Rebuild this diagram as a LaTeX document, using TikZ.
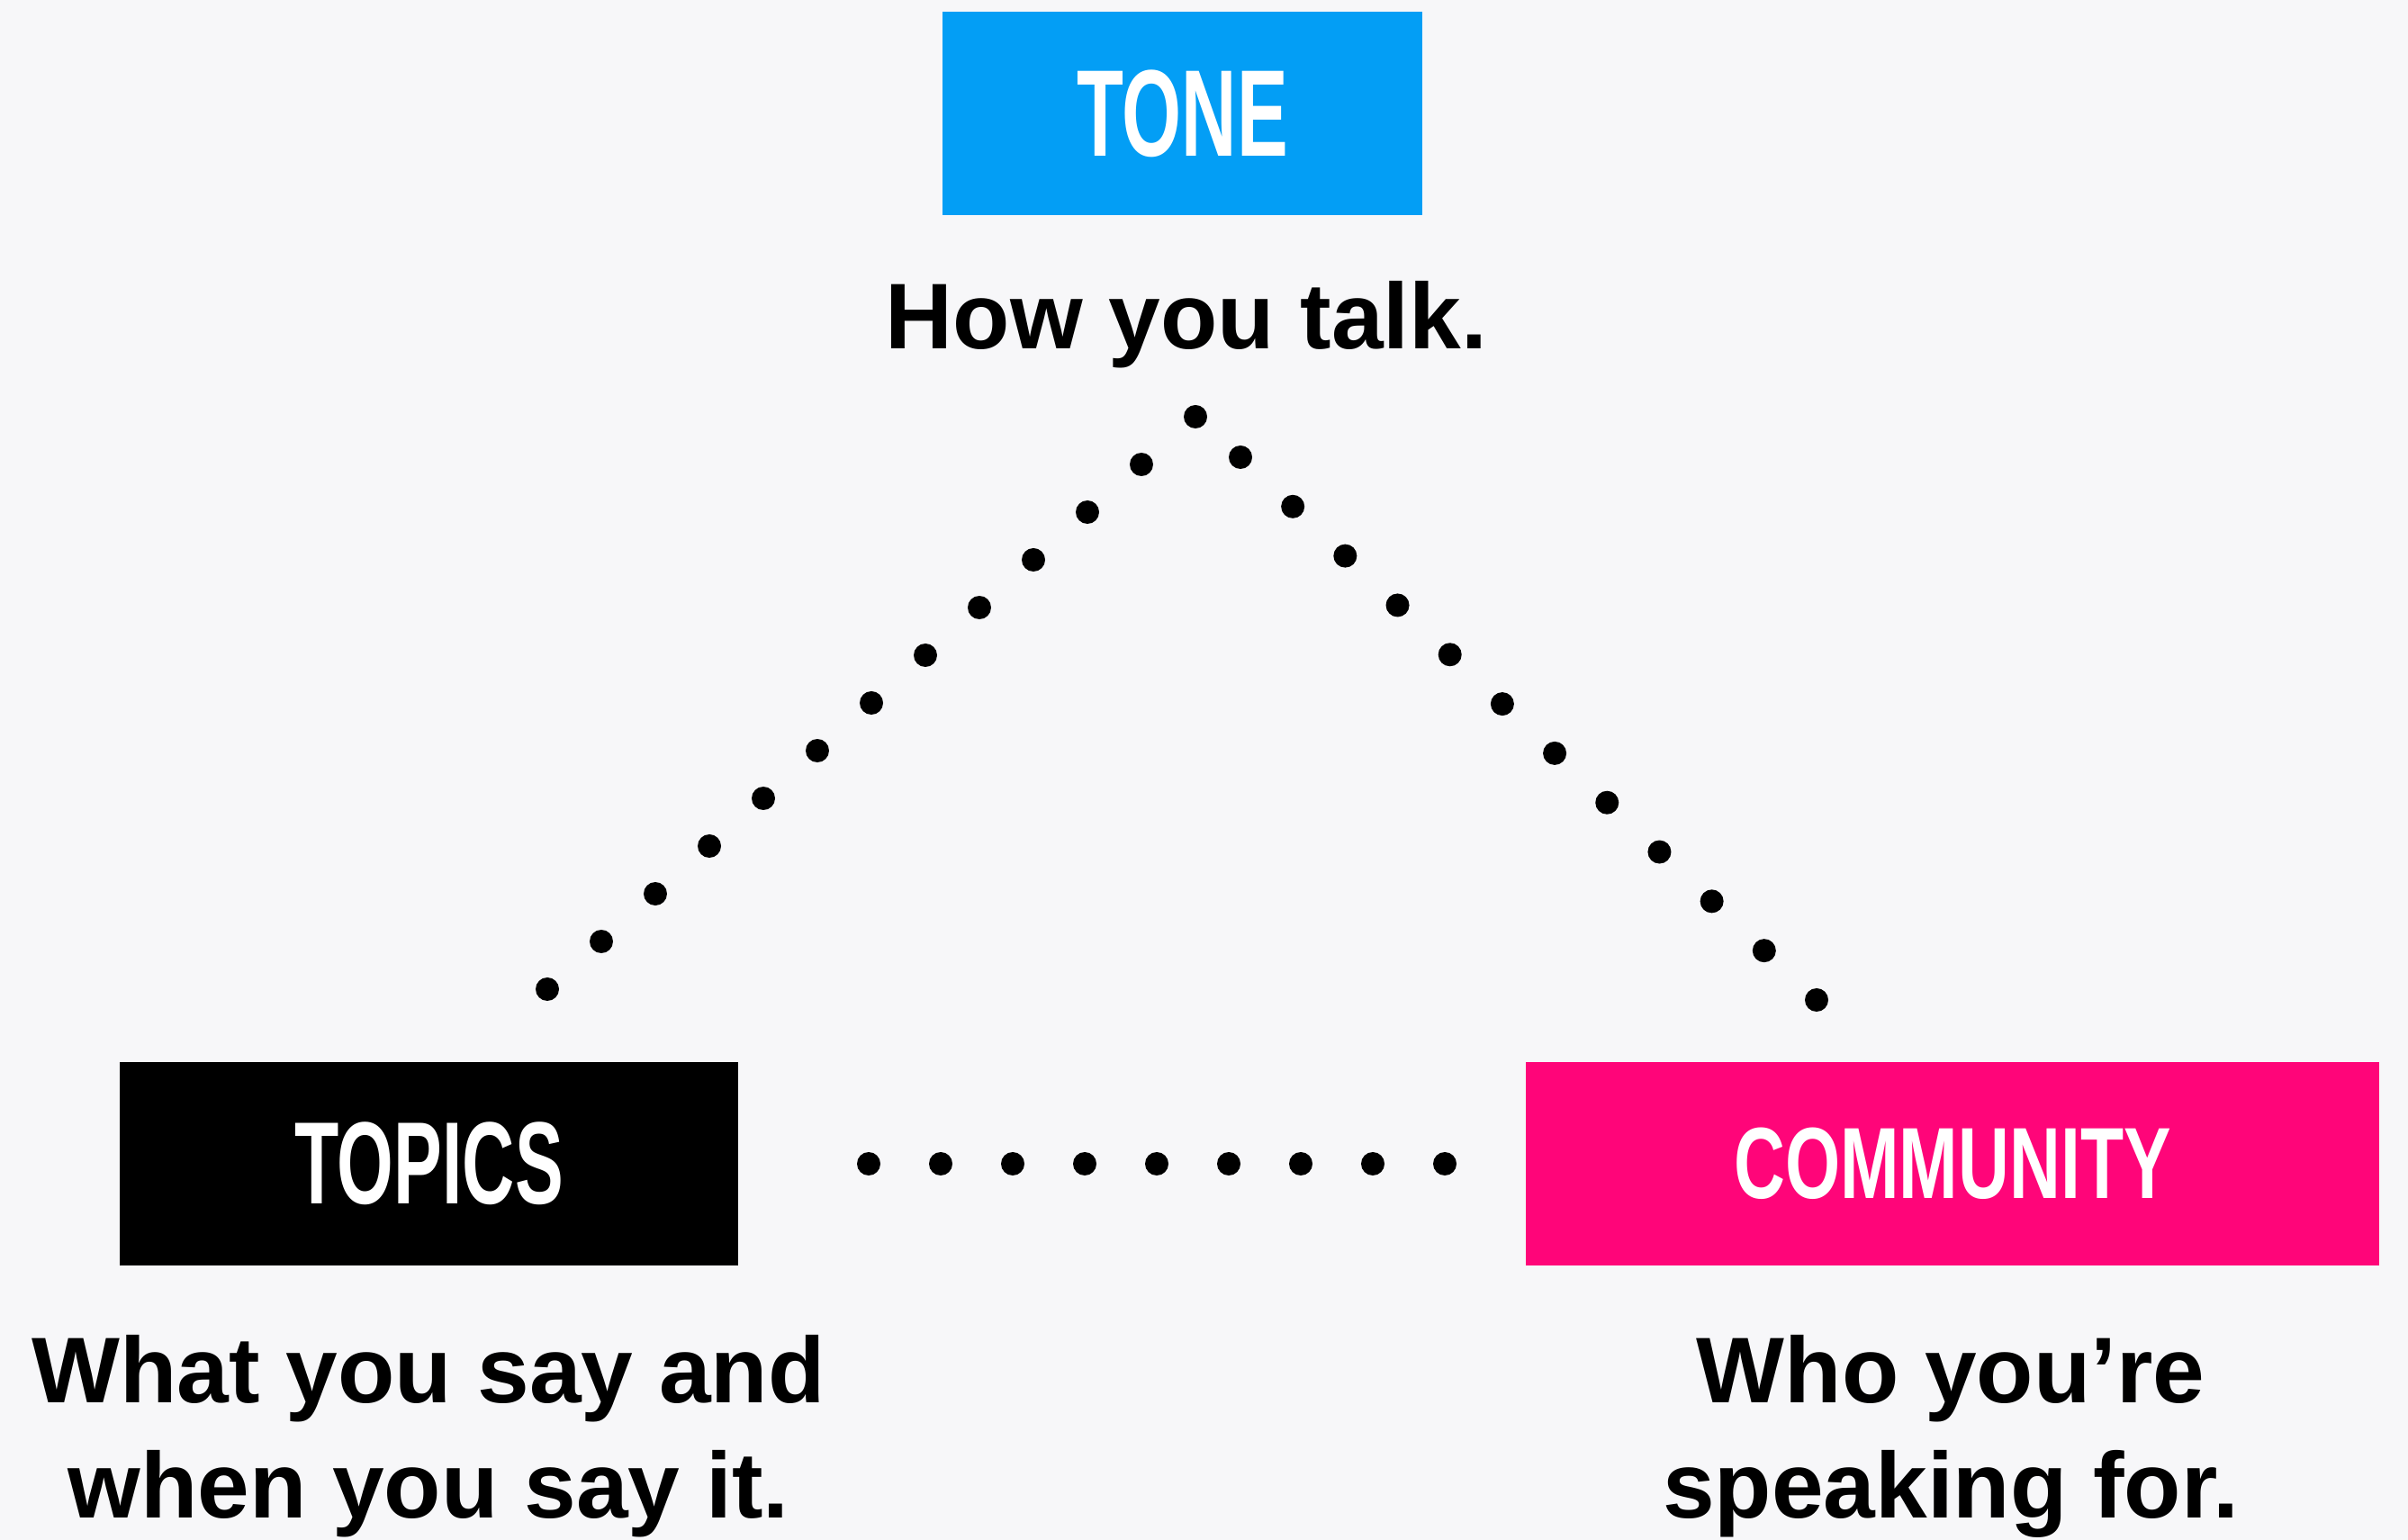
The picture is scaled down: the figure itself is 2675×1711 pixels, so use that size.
\documentclass[tikz,border=0pt]{standalone}
\usepackage{fontspec}
\setmainfont{Liberation Sans}
\newfontfamily\boxfont[FakeStretch=0.62]{Liberation Sans Bold}
\newfontfamily\wideboxfont[FakeStretch=0.7]{Liberation Sans Bold}
\usepackage{xcolor}
\usetikzlibrary{calc}

\definecolor{tonecol}{HTML}{039EF5}
\definecolor{communitycol}{HTML}{FF0579}
\definecolor{papercol}{HTML}{F7F7F9}

\begin{document}
\begin{tikzpicture}[
        x=0.1mm, y=-0.1mm,
        pillar/.style={
            rectangle, inner sep=0pt, minimum width=#1,
            minimum height=22.6mm, text=white
        },
        caption/.style={
            inner sep=0pt, align=center,
            font=\bfseries\fontsize{29.5}{36.4}\selectfont
        },
        dot/.style={fill=black},
    ]

    % -- paper --
    \path[use as bounding box, fill=papercol] (0,0) rectangle (2675,1711);

    % -- the three pillars --
    \node[pillar=53.3mm, fill=tonecol, font=\boxfont\fontsize{39}{40}\selectfont]
        (tone) at (1313.5,126) {TONE};
    \node[pillar=68.7mm, fill=black, font=\boxfont\fontsize{37}{40}\selectfont]
        (topics) at (476.5,1293) {TOPICS};
    \node[pillar=94.8mm, fill=communitycol, font=\wideboxfont\fontsize{32}{36}\selectfont]
        (community) at (2169,1293) {COMMUNITY};

    % -- captions --
    \node[caption, anchor=base] (tonecap) at (1318,388) {How you talk.};
    \node[caption, anchor=north] (topicscap) at (476,1483)
        {What you say and\\when you say it.};
    \node[caption, anchor=north] (communitycap) at (2167,1483)
        {Who you’re\\speaking for.};

    % -- dotted links --
    \coordinate (topicsdot) at (608,1099);
    \coordinate (apexdot) at (1328,463);
    \coordinate (toneright) at (1378,508);
    \coordinate (communitydot) at (2018,1111);
    \coordinate (baseleft) at (965,1293);
    \coordinate (baseright) at (1605,1293);

    \foreach \k in {0,...,12}
        \fill[dot] ($(topicsdot)!\k/12!(apexdot)$) circle[radius=1.3mm];
    \foreach \k in {0,...,11}
        \fill[dot] ($(toneright)!\k/11!(communitydot)$) circle[radius=1.3mm];
    \foreach \k in {0,...,8}
        \fill[dot] ($(baseleft)!\k/8!(baseright)$) circle[radius=1.3mm];

\end{tikzpicture}
\end{document}
